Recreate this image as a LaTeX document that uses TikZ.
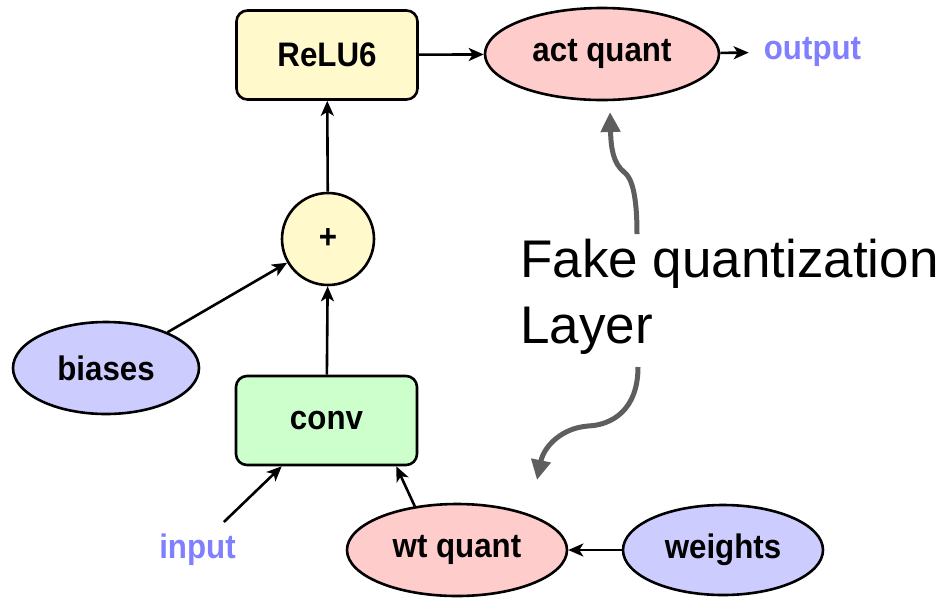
\documentclass[tikz,border=0pt]{standalone}
\usepackage{fontspec}
\setmainfont{Liberation Sans}
\newfontfamily\lblfont[FakeStretch=0.92]{Liberation Sans}
\usetikzlibrary{arrows.meta,shapes.geometric}

\definecolor{opyellow}{HTML}{FFF9CC}
\definecolor{oppink}{HTML}{FFCCCC}
\definecolor{opblue}{HTML}{CCCCFF}
\definecolor{opgreen}{HTML}{CCFFCC}
\definecolor{iotext}{HTML}{7F7FFF}
\definecolor{notegray}{HTML}{5E5E5E}

\tikzset{
  lbl/.style={font=\lblfont\fontsize{34}{36}\selectfont\bfseries},
  opbox/.style={lbl, draw, line width=2.6pt, rounded corners=11pt,
    minimum width=181pt, minimum height=89pt, inner sep=0pt},
  opoval/.style={lbl, ellipse, draw, line width=2.6pt, inner sep=0pt},
  opcirc/.style={lbl, circle, draw, line width=2.6pt, fill=opyellow,
    minimum size=92pt, inner sep=0pt},
  iolabel/.style={lbl, text=iotext, inner sep=0pt},
  flow/.style={line width=2.6pt, -{Stealth[length=15pt,width=13pt,inset=4pt]}},
  note/.style={line width=5pt, draw=notegray,
    -{Triangle[length=20pt,width=19pt,fill=notegray]}},
}

\begin{document}
\begin{tikzpicture}[x=1pt, y=-1pt]
  \useasboundingbox (0,0) rectangle (946,598);

  % operators
  \node[opbox, fill=opyellow] (relu) at (327,55) {ReLU6};
  \node[opbox, fill=opgreen]  (conv) at (326.5,420.5) {conv};
  \node[opcirc] (plus) at (328,239) {+};

  % tensors and quantizers
  \node[opoval, fill=oppink, minimum width=234pt, minimum height=92pt] (actq) at (602,54) {act quant};
  \node[opoval, fill=oppink, minimum width=220pt, minimum height=92pt] (wtq) at (457,550) {wt quant};
  \node[opoval, fill=opblue, minimum width=200pt, minimum height=90pt] (weights) at (723,550) {weights};
  \node[opoval, fill=opblue, minimum width=186pt, minimum height=92pt] (biases) at (106,368) {biases};

  % graph inputs and outputs
  \node[iolabel, inner xsep=15pt] (output) at (812.5,52) {output};
  \node[iolabel] (input) at (197.5,550) {input};

  % data flow
  \draw[flow] (relu) -- (actq);
  \draw[flow] (actq) -- (output);
  \draw[flow] (plus) -- (relu);
  \draw[flow] (conv) -- (plus);
  \draw[flow] (biases) -- (plus);
  \draw[flow] ([xshift=-12pt,yshift=12pt]input.north east) -- ([xshift=47pt]conv.south west);
  \draw[flow] (wtq.134) -- ([xshift=-22pt]conv.south east);
  \draw[flow] (weights) -- (wtq);

  % annotation
  \node[anchor=north west, align=left, inner sep=0pt,
        font=\fontsize{53}{66}\selectfont] (fq) at (520,239)
        {Fake quantization\\Layer};

  \coordinate (upStart) at (637,234);
  \coordinate (upKink)  at (624,172);
  \coordinate (upTip)   at (610,112);
  \coordinate (dnStart) at (638,367);
  \coordinate (dnMid)   at (588,426);
  \coordinate (dnTip)   at (537,480);

  \draw[note] (upStart) .. controls (637,192) and (631,177) .. (upKink)
              .. controls (613,163) and (611,148) .. (upTip);
  \draw[note] (dnStart) .. controls (638,410) and (612,425) .. (dnMid)
              .. controls (562,428) and (544,446) .. (dnTip);
\end{tikzpicture}
\end{document}
